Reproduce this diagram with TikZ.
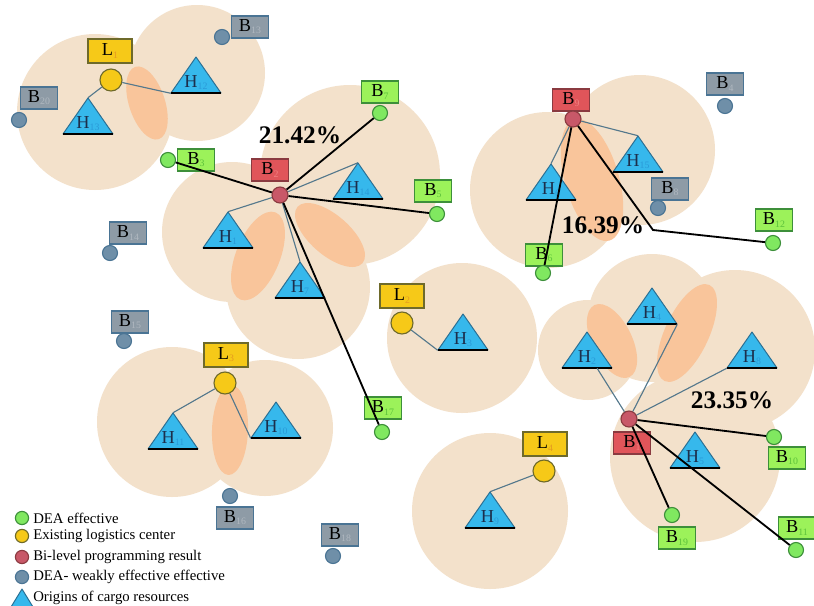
\documentclass[tikz,border=0pt]{standalone}
\usepackage{fontspec}
\setmainfont{Liberation Serif}
\usetikzlibrary{calc}
\definecolor{czone}{HTML}{F3E1CB}
\definecolor{clens}{HTML}{F9C59B}
\definecolor{cgreen}{HTML}{9CF25A}
\definecolor{cgreendot}{HTML}{80E860}
\definecolor{cgreenedge}{HTML}{3D8F3A}
\definecolor{cgreensub}{HTML}{5CC23A}
\definecolor{cgrey}{HTML}{8E9BA6}
\definecolor{cgreydot}{HTML}{6F8FA8}
\definecolor{cgreyedge}{HTML}{4A7494}
\definecolor{cgreysub}{HTML}{B0B8C0}
\definecolor{cred}{HTML}{E0555A}
\definecolor{creddot}{HTML}{C85868}
\definecolor{crededge}{HTML}{8A3A40}
\definecolor{credsub}{HTML}{F28080}
\definecolor{cyel}{HTML}{F6C918}
\definecolor{cyeledge}{HTML}{6E6A2A}
\definecolor{cyelsub}{HTML}{E59A20}
\definecolor{chub}{HTML}{36B8EC}
\definecolor{chubedge}{HTML}{2B6F93}
\definecolor{chubsub}{HTML}{2A9AD8}
\definecolor{chubtext}{HTML}{1C2F4C}
\definecolor{clink}{HTML}{54788C}

% small coloured index after a letter
\newcommand{\tagno}[2]{\raisebox{-1.5pt}{\textcolor{#1}{\fontsize{7}{7}\selectfont #2}}}

\begin{document}
\begin{tikzpicture}[
    x=0.025cm, y=-0.025cm,
    zone/.style={fill=czone},
    lens/.style={fill=clens},
    tagbox/.style={draw, line width=0.8pt, minimum width=0.92cm, minimum height=0.55cm,
                   inner sep=1pt, font=\fontsize{13}{13}\selectfont},
    tagg/.style={tagbox, fill=cgreen, draw=cgreenedge},
    tagk/.style={tagbox, fill=cgrey, draw=cgreyedge},
    tagr/.style={tagbox, fill=cred, draw=crededge},
    tagy/.style={tagbox, fill=cyel, draw=cyeledge, minimum width=1.1cm, minimum height=0.6cm},
    dot/.style={circle, draw, line width=0.8pt, minimum size=0.375cm, inner sep=0pt},
    dotg/.style={dot, fill=cgreendot, draw=cgreenedge},
    dotk/.style={dot, fill=cgreydot, draw=cgreyedge},
    dotr/.style={dot, fill=creddot, draw=crededge, minimum size=0.4cm},
    doty/.style={dot, fill=cyel, draw=cyeledge, minimum size=0.55cm},
    hub/.style={fill=chub, draw=chubedge, line width=0.7pt, line join=round},
    hubtxt/.style={minimum width=1.25cm, minimum height=0.9cm, inner sep=0pt,
                   text height=0.62cm, text depth=0pt, text=chubtext,
                   font=\fontsize{13}{13}\selectfont},
    base/.style={black, line width=1.2pt},
    route/.style={black, line width=1.3pt},
    link/.style={clink, line width=0.8pt},
    share/.style={font=\bfseries\fontsize{18}{18}\selectfont},
    key/.style={anchor=west, inner sep=0pt, font=\fontsize{10.5}{11}\selectfont},
]
\fill[white] (0,0) rectangle (814,605);
\useasboundingbox (0,0) rectangle (814,605);

% service areas and their overlaps
\foreach \cx/\cy/\r in {95/112/78, 197/73/68, 350/175/90, 232/232/70, 298/287/72,
    462/338/75, 172/422/75, 265/428/68, 490/511/78, 548/190/78, 640/150/75,
    588/350/50, 652/318/64, 735/350/80, 695/457/85}
  \fill[zone] (\cx,\cy) circle [radius=\r];
\foreach \cx/\cy/\a/\rx/\ry in {147/103/72/38/18, 258/256/112/47/22, 330/235/41/43/20,
    592/180/74/63/27, 230/430/92/45/18, 612/341/64/40/20, 687/333/115/53/22}
  \fill[lens, rotate around={-\a:(\cx,\cy)}] (\cx,\cy) ellipse [x radius=\rx, y radius=\ry];

% origins of cargo
\foreach \n/\x/\y in {1/228/230, 2/587/350, 3/463/332, 4/652/306, 5/695/450,
    6/551/182, 7/300/280, 8/752/350, 9/490/510, 10/276/420, 11/173/431,
    12/196/75, 13/88/116, 14/358/181, 15/638/154}{
  \filldraw[hub] (\x-25,\y+18) -- (\x,\y-18) -- (\x+25,\y+18) -- cycle;
  \draw[base] (\x-25,\y+18) -- (\x+25,\y+18);
  \node[hubtxt] (h\n) at (\x,\y) {H\tagno{chubsub}{\n}};}

% logistics centres
\foreach \n/\bx/\by/\dx/\dy in {1/110/51/111/80, 2/402/296/402/323,
    3/226/355/225/383, 4/545/444/544/471}{
  \node[tagy] (tl\n) at (\bx,\by) {L\tagno{cyelsub}{\n}};
  \node[doty] (l\n) at (\dx,\dy) {};}

% candidate sites
\foreach \n/\bx/\by/\dx/\dy in {3/196/160/168/160, 5/433/191/437/214, 6/544/255/543/273,
    7/380/92/380/113, 10/787/458/774/437, 11/797/528/796/550, 12/774/220/773/243,
    17/383/408/382/432, 19/677/538/672/515}{
  \node[tagg] (tb\n) at (\bx,\by) {B\tagno{cgreensub}{\n}};
  \node[dotg] (b\n) at (\dx,\dy) {};}
\foreach \n/\bx/\by/\dx/\dy in {4/725/84/725/106, 8/670/189/658/208, 13/250/27/222/37,
    14/128/233/110/253, 15/130/322/124/341, 16/235/518/230/496,
    18/340/535/333/556, 20/39/98/19/120}{
  \node[tagk] (tb\n) at (\bx,\by) {B\tagno{cgreysub}{\n}};
  \node[dotk] (b\n) at (\dx,\dy) {};}
\foreach \n/\bx/\by/\dx/\dy in {1/632/443/629/419, 2/270/170/280/195, 9/571/100/573/119}{
  \node[tagr] (tb\n) at (\bx,\by) {B\tagno{credsub}{\n}};
  \node[dotr] (b\n) at (\dx,\dy) {};}

% links to existing centres
\draw[link] (l1) -- (h13.north);
\draw[link] (l1) -- (h12.south west);
\draw[link] (l2) -- (h3.south west);
\draw[link] (l3) -- (h11.north);
\draw[link] (l3) -- (h10.south west);
\draw[link] (l4) -- (h9.north);

% B2
\draw[link] (b2) -- (h14.north);
\draw[link] (b2) -- (h1.north);
\draw[link] (b2) -- (h7.north);
\draw[route] (b2) -- (b7);
\draw[route] (b2) -- (b3);
\draw[route] (b2) -- (b5);
\draw[route] (b2) -- (b17);
\node[share] (p1) at (300,135) {21.42\%};

% B9
\coordinate (kink) at (653,230);
\draw[link] (b9) -- (h15.north);
\draw[link] (b9) -- (h6.north);
\draw[route] (b9) -- (b6);
\draw[route] (b9) -- (kink) -- (b12);
\node[share] (p2) at (603,225) {16.39\%};

% B1
\draw[link] (b1) -- ($(h2.south)!.4!(h2.south east)$);
\draw[link] (b1) -- (h4.south east);
\draw[link] (b1) -- (h8.south west);
\draw[route] (b1) -- (b10);
\draw[route] (b1) -- (b19);
\draw[route] (b1) -- (b11);
\node[share] (p3) at (732,400) {23.35\%};

% legend
\foreach \i/\s/\yy/\t in {1/dotg/518/DEA effective, 2/doty/536/Existing logistics center,
    3/dotr/557/Bi-level programming result, 4/dotk/577/DEA- weakly effective effective}{
  \node[\s, minimum size=0.33cm] (kd\i) at (22,\yy) {};
  \node[key] (k\i) at (33,\yy) {\t};}
\filldraw[hub] (11,607) -- (22,589) -- (33,607) -- cycle;
\node[key] (k5) at (33,598) {Origins of cargo resources};
\end{tikzpicture}
\end{document}
